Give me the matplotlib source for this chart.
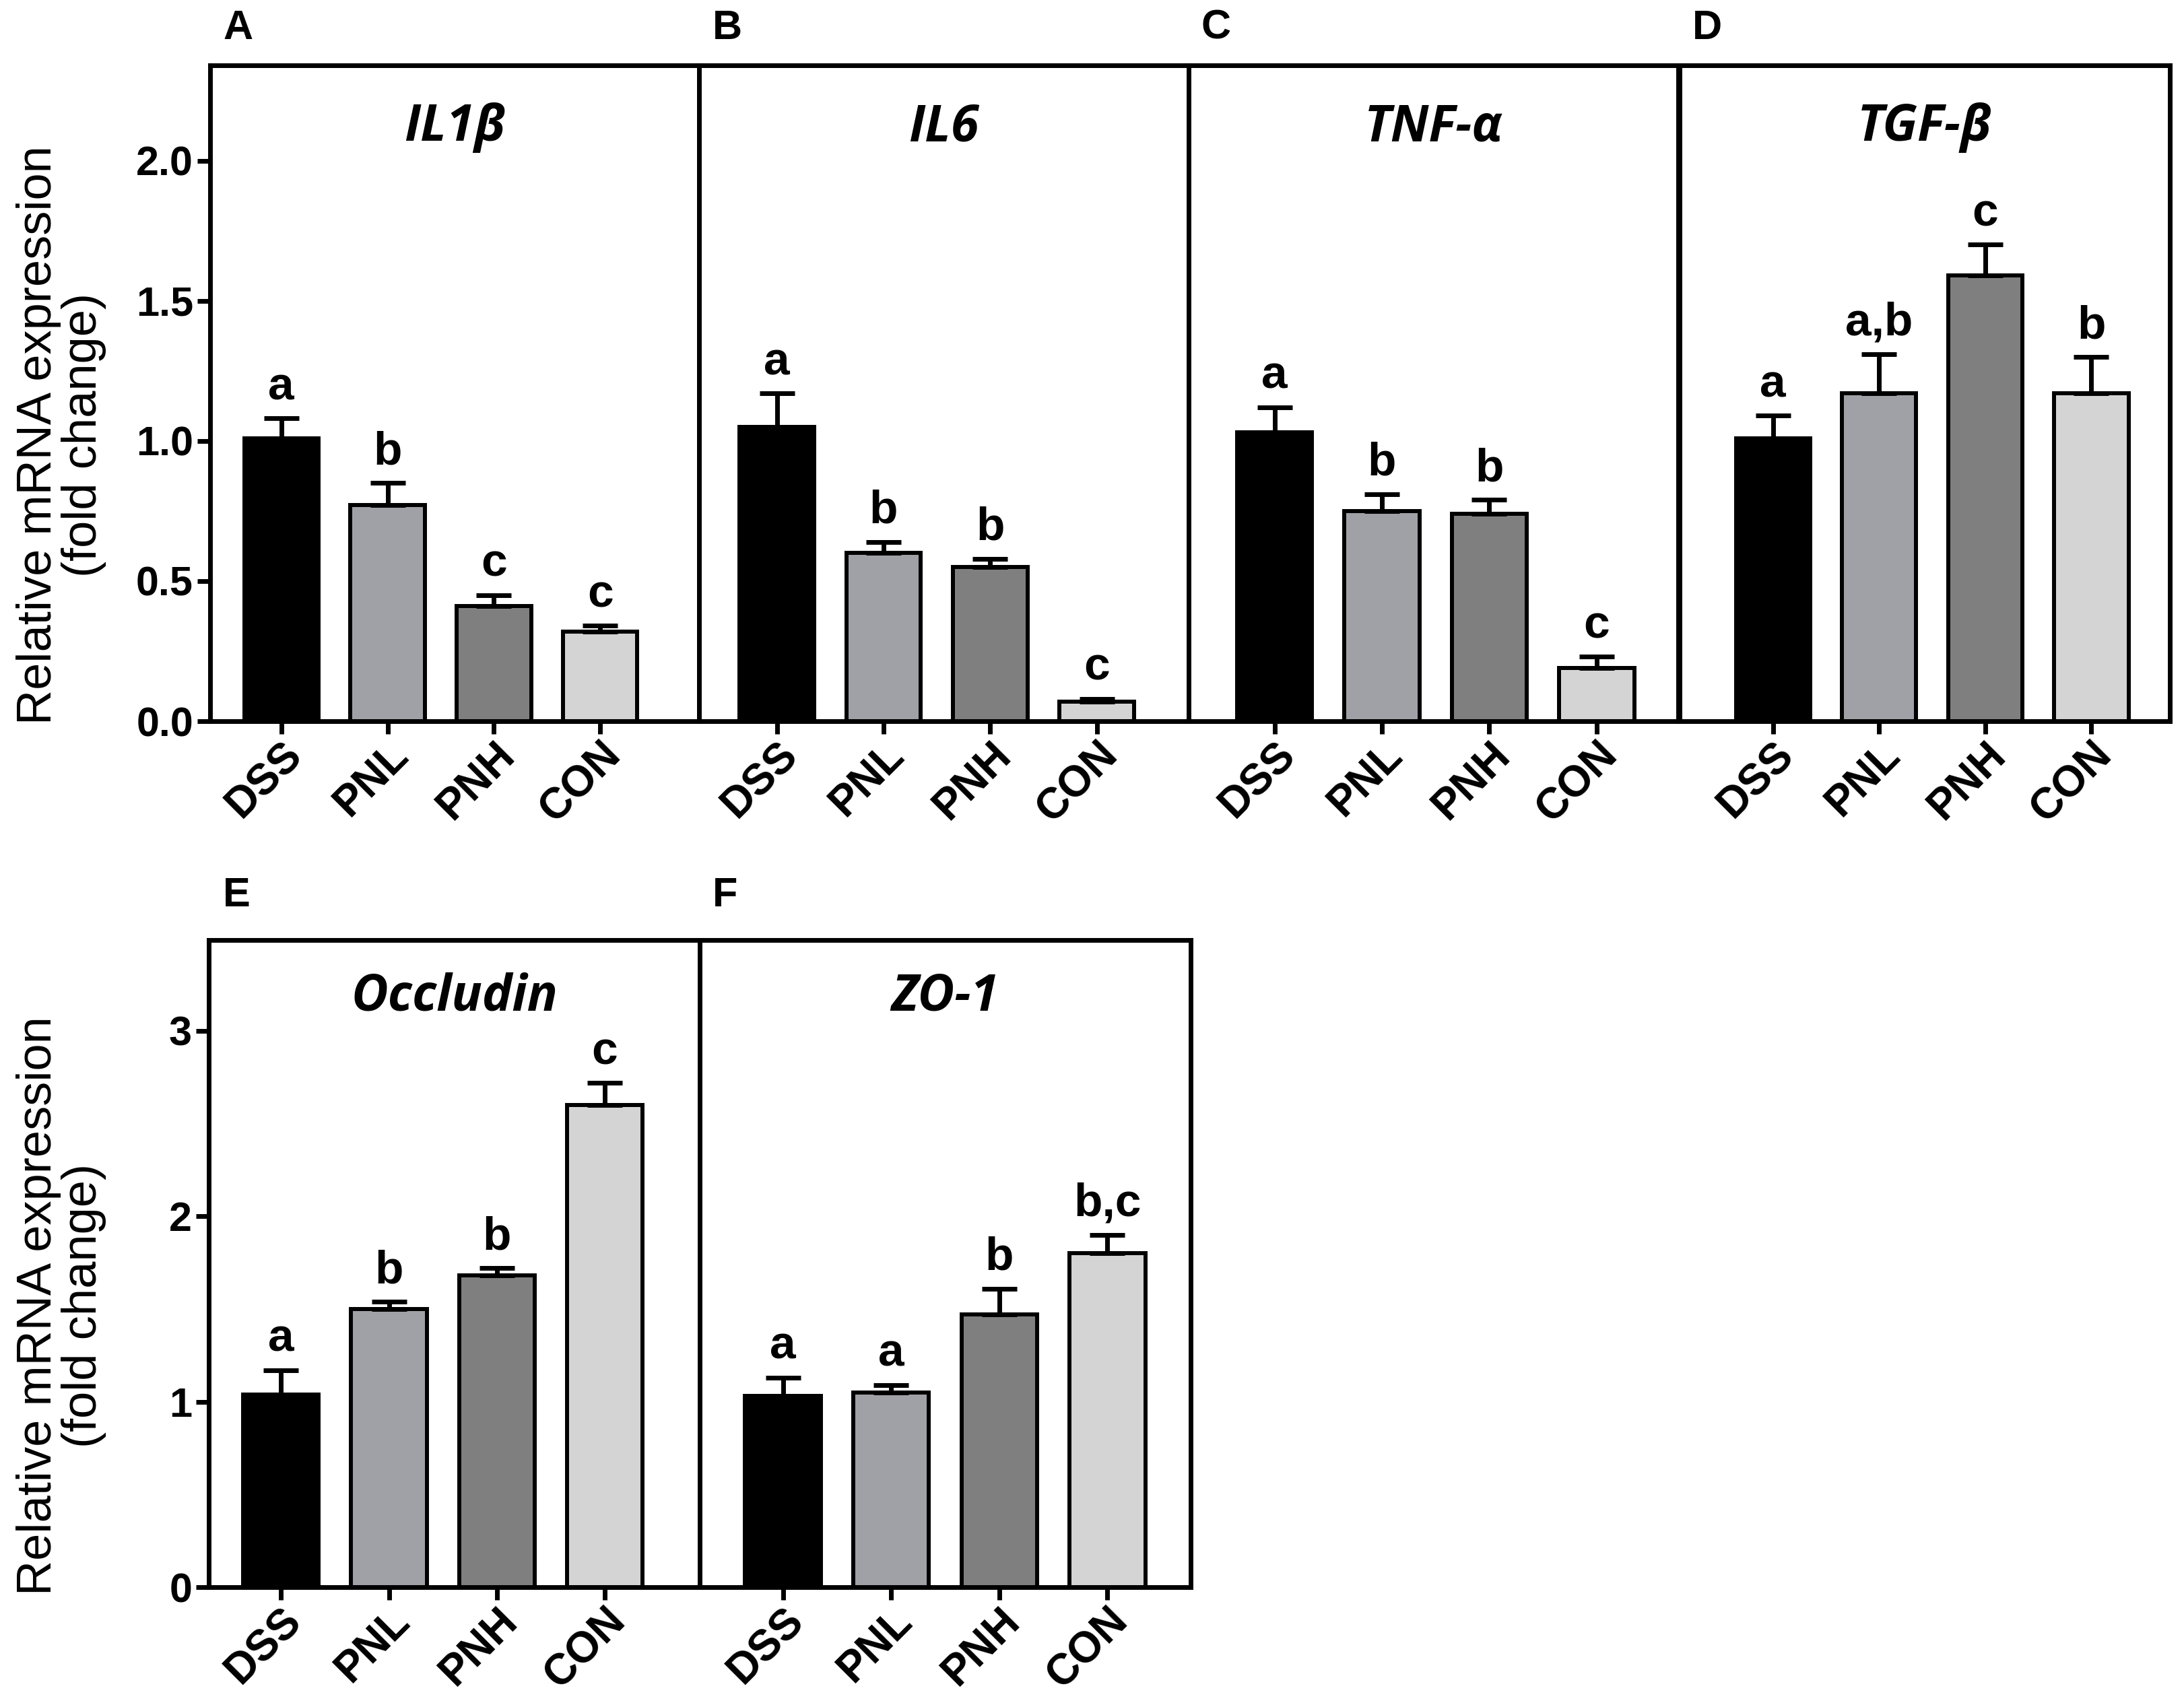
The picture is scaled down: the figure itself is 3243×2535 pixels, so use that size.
import matplotlib
matplotlib.use('Agg')
import matplotlib.pyplot as plt

groups = ['DSS', 'PNL', 'PNH', 'CON']
bar_colors = ['#000000', '#a0a0a7', '#7f7f7f', '#d4d4d4']

# means and upper error (SEM)
il1b_mean = [1.01, 0.77, 0.41, 0.32]
il1b_err = [0.07, 0.08, 0.04, 0.02]
il1b_sig = ['a', 'b', 'c', 'c']

il6_mean = [1.05, 0.60, 0.55, 0.07]
il6_err = [0.12, 0.04, 0.03, 0.01]
il6_sig = ['a', 'b', 'b', 'c']

tnf_mean = [1.03, 0.75, 0.74, 0.19]
tnf_err = [0.09, 0.06, 0.05, 0.04]
tnf_sig = ['a', 'b', 'b', 'c']

tgf_mean = [1.01, 1.17, 1.59, 1.17]
tgf_err = [0.08, 0.14, 0.11, 0.13]
tgf_sig = ['a', 'a,b', 'c', 'b']

occ_mean = [1.04, 1.50, 1.68, 2.60]
occ_err = [0.13, 0.04, 0.04, 0.12]
occ_sig = ['a', 'b', 'b', 'c']

zo1_mean = [1.03, 1.05, 1.47, 1.80]
zo1_err = [0.10, 0.04, 0.14, 0.10]
zo1_sig = ['a', 'a', 'b', 'b,c']

W, H = 3243, 2535
fig = plt.figure(figsize=(W / 100, H / 100), dpi=100)

ytick_font = {'family': 'Liberation Sans', 'weight': 'bold', 'size': 44}
xtick_font = {'family': 'Liberation Sans', 'weight': 'bold', 'size': 46}
LW = 5


def px(x0, y0, x1, y1):
    # pixel box -> figure fraction
    return [x0 / W, 1 - y1 / H, (x1 - x0) / W, (y1 - y0) / H]


def yticks_labels(ticks):
    if all(float(t).is_integer() for t in ticks):
        return ['%d' % t for t in ticks]
    return ['%.1f' % t for t in ticks]


def panel(rect, mean, err, sig, title, ylim, yticks, xlim, show_y, title_y):
    ax = fig.add_axes(rect)
    x = list(range(len(groups)))
    ax.bar(x, mean, width=0.7, color=bar_colors, edgecolor='black', linewidth=4.3, zorder=2)
    ax.errorbar(x, mean, yerr=[[0] * len(err), err], fmt='none', ecolor='black',
                elinewidth=LW, capsize=19, capthick=LW, zorder=3)
    for xi, m, e, s in zip(x, mean, err, sig):
        ax.annotate(s, (xi, m + e), xytext=(0, 10), textcoords='offset points',
                    ha='center', va='bottom', fontsize=50, fontweight='bold',
                    family='Liberation Sans')
    ax.set_xlim(*xlim)
    ax.set_ylim(*ylim)
    ax.set_xticks(x)
    ax.set_xticklabels(groups, rotation=45, ha='right', rotation_mode='anchor', fontdict=xtick_font)
    ax.tick_params(axis='x', length=14, width=LW, pad=0)
    if show_y:
        ax.set_yticks(yticks)
        ax.set_yticklabels(yticks_labels(yticks), fontdict=ytick_font)
        ax.tick_params(axis='y', length=14, width=LW, pad=4)
    else:
        ax.set_yticks([])
    for sp in ax.spines.values():
        sp.set_linewidth(LW)
    ax.text(0.5, title_y, title, transform=ax.transAxes, ha='center', va='center',
            fontsize=54, fontweight='bold', fontstyle='italic', family=['Open Sans', 'DejaVu Sans'])
    return ax


top_ticks = [0.0, 0.5, 1.0, 1.5, 2.0]
bot_ticks = [0, 1, 2, 3]

panel(px(312, 97, 1038, 1071), il1b_mean, il1b_err, il1b_sig, 'IL1β', (0, 2.34), top_ticks, (-0.67, 3.93), True, 0.905)
panel(px(1038, 97, 1765, 1071), il6_mean, il6_err, il6_sig, 'IL6', (0, 2.34), top_ticks, (-0.73, 3.86), False, 0.905)
panel(px(1765, 97, 2492, 1071), tnf_mean, tnf_err, tnf_sig, 'TNF-α', (0, 2.34), top_ticks, (-0.80, 3.76), False, 0.905)
panel(px(2494, 97, 3222, 1071), tgf_mean, tgf_err, tgf_sig, 'TGF-β', (0, 2.34), top_ticks, (-0.88, 3.74), False, 0.905)

panel(px(310, 1396, 1039, 2357), occ_mean, occ_err, occ_sig, 'Occludin', (0, 3.49), bot_ticks, (-0.67, 3.88), True, 0.912)
panel(px(1039, 1396, 1768, 2357), zo1_mean, zo1_err, zo1_sig, 'ZO-1', (0, 3.49), bot_ticks, (-0.77, 3.77), False, 0.912)

ylab = 'Relative mRNA expression\n(fold change)'
fig.text(0.028, 0.745, ylab, rotation=90, ha='center', va='center', multialignment='center',
         fontsize=52, family='Liberation Sans', linespacing=1.0)
fig.text(0.028, 0.235, ylab, rotation=90, ha='center', va='center', multialignment='center',
         fontsize=52, family='Liberation Sans', linespacing=1.0)

for lab, x0, y0 in [('A', 331, 58), ('B', 1058, 58), ('C', 1783, 58), ('D', 2513, 58),
                    ('E', 331, 1346), ('F', 1058, 1346)]:
    fig.text(x0 / W, 1 - y0 / H, lab, ha='left', va='baseline', fontsize=44,
             fontweight='bold', family='Liberation Sans')

fig.savefig('out.png', dpi=100, facecolor='white')
